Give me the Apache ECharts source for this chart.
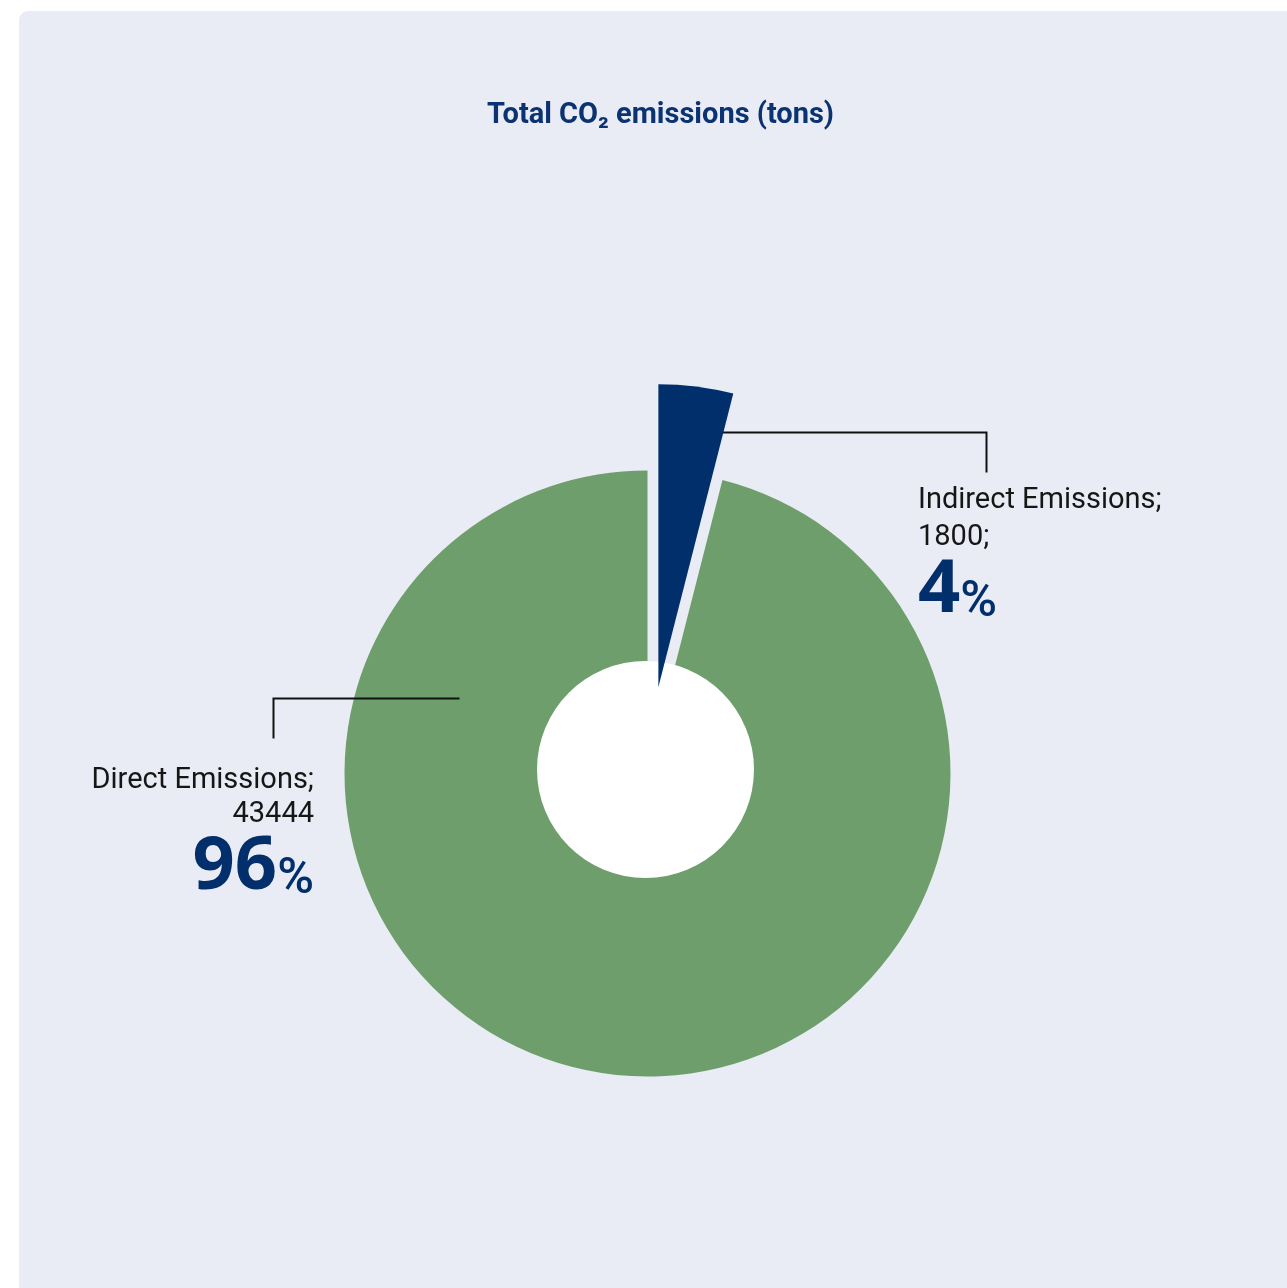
<!DOCTYPE html>
<html>
<head>
<meta charset="utf-8">
<title>Total CO2 emissions</title>
<script src="https://cdn.jsdelivr.net/npm/echarts@6/dist/echarts.min.js"></script>
<style>
  html, body { margin: 0; padding: 0; background: #fff; }
  #Charts { width: 1287px; height: 1288px; }
</style>
</head>
<body>
<div id="Charts"></div>
<script>
// data
const categories = ['Indirect Emissions', 'Direct Emissions'];
const emissions = [1800, 43444];
const titleText = 'Total CO\u2082 emissions (tons)';

// styles / layout
const NAVY = '#002f6c';
const GREEN = '#6d9e6b';
const PANEL = '#e9ecf4';
const cx = 647.5, cy = 773.5;
const outerR = 303, innerR = 100;
const pullOut = 87; // how far the small slice is pulled out

const total = emissions.reduce((a, b) => a + b, 0);
const pct = v => Math.round(v / total * 100);

// the pulled-out slice sits on its own centre, moved along its mid angle
const midAngle = Math.PI * emissions[0] / total;
const wedgeCenter = [cx + pullOut * Math.sin(midAngle), cy - pullOut * Math.cos(midAngle)];

// where each label + its bracket leader line go (layout only)
const spots = [
  { x: 918, y: 478, align: 'left',
    line: [[cx + 75, cy - 341], [cx + 339, cy - 341], [cx + 339, cy - 301]] },
  { x: 314, y: 761, align: 'right',
    line: [[cx - 188, cy - 75], [cx - 374, cy - 75], [cx - 374, cy - 35]] }
];

function labelText(i) {
  const sep = i === 0 ? ';' : '';
  return '{n' + i + '|' + categories[i] + ';}\n{n' + i + '|' + emissions[i] + sep + '}\n{big|' + pct(emissions[i]) + '}{pc|%}';
}

const txt = { fontFamily: 'Roboto', fontSize: 29, color: '#161616', verticalAlign: 'bottom' };
const rich = {
  n0: Object.assign({ lineHeight: 37 }, txt),
  n1: Object.assign({ lineHeight: 34 }, txt),
  big: { fontFamily: 'Open Sans', fontWeight: 'bold', fontSize: 74, color: NAVY, lineHeight: 76, verticalAlign: 'bottom' },
  pc: { fontFamily: 'Roboto', fontWeight: 500, fontSize: 50, color: NAVY, lineHeight: 56, verticalAlign: 'bottom' }
};

function layoutFn(params) {
  const s = spots[params.dataIndex];
  return { x: s.x, y: s.y, align: s.align, verticalAlign: 'top', labelLinePoints: s.line };
}

const hidden = 'rgba(0,0,0,0)';

const ringData = categories.map((name, i) => ({
  name: name,
  value: emissions[i],
  itemStyle: { color: i === 1 ? GREEN : hidden }
}));

const wedgeData = categories.map((name, i) => ({
  name: name,
  value: emissions[i],
  itemStyle: { color: i === 0 ? NAVY : hidden }
}));

const chart = echarts.init(document.getElementById('Charts'));
const option = {
  animation: false,
  backgroundColor: '#fff',
  title: {
    text: titleText,
    left: 482,
    top: 96,
    textStyle: { fontFamily: 'Roboto', fontWeight: 'bold', fontSize: 29, color: '#0c3371' }
  },
  graphic: [
    { type: 'rect', z: 0, shape: { x: 19, y: 11, width: 1320, height: 1320, r: 9 }, style: { fill: PANEL } },
    // white hole, drawn between the ring and the pulled-out slice
    { type: 'circle', z: 2.5, shape: { cx: 645.5, cy: 769.5, r: 108.5 }, style: { fill: '#fff' } }
  ],
  series: [
    {
      type: 'pie',
      z: 2,
      center: [cx, cy],
      radius: [innerR, outerR],
      startAngle: 90,
      clockwise: true,
      silent: true,
      data: ringData,
      label: { show: false },
      labelLine: { show: false },
      emphasis: { disabled: true }
    },
    {
      type: 'pie',
      z: 3,
      center: wedgeCenter,
      radius: [0, outerR],
      startAngle: 90,
      clockwise: true,
      silent: true,
      data: wedgeData,
      label: { show: true, position: 'outside', formatter: p => labelText(p.dataIndex), rich: rich },
      labelLine: { show: true, lineStyle: { color: '#111', width: 2 } },
      labelLayout: layoutFn,
      emphasis: { disabled: true }
    }
  ]
};
chart.setOption(option);
</script>
</body>
</html>
